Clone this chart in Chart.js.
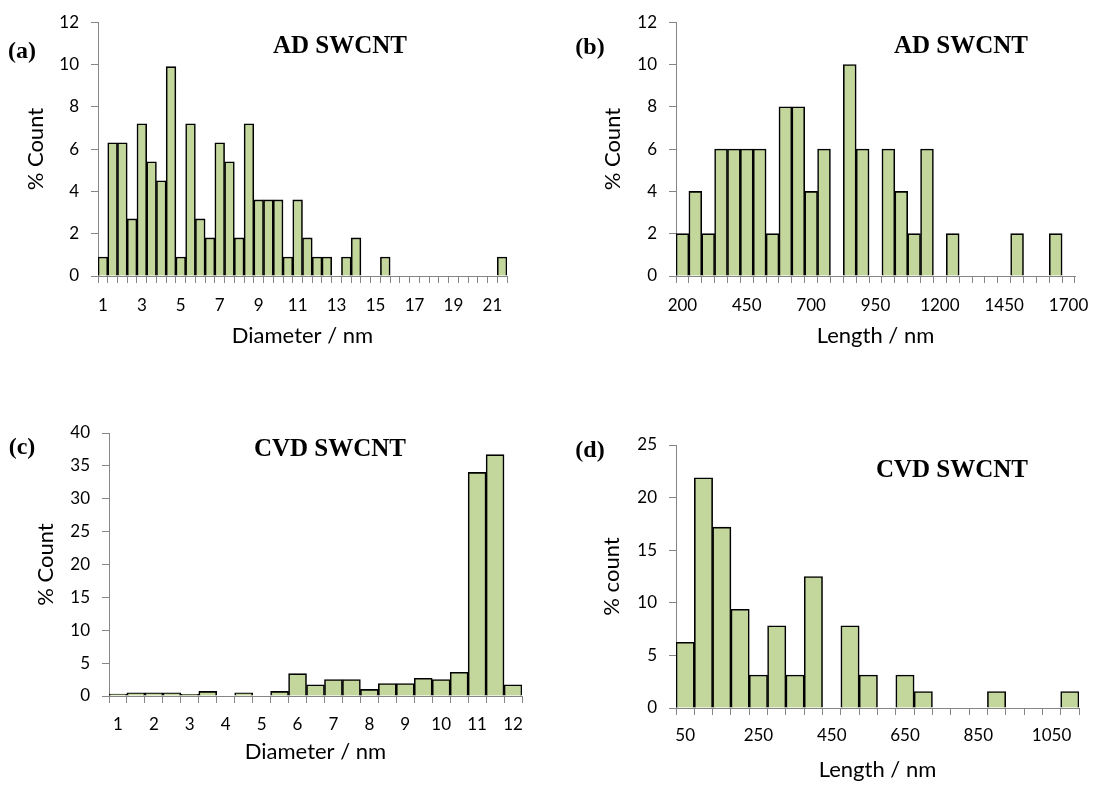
<!DOCTYPE html>
<html>
<head>
<meta charset="utf-8">
<script src="https://cdn.jsdelivr.net/npm/chart.js@4.4.0/dist/chart.umd.min.js"></script>
<style>
  body { margin:0; background:#fff; width:1102px; height:787px; position:relative; overflow:hidden; }
  canvas { position:absolute; }
  .lbl { position:absolute; font-family:'Liberation Serif','Times New Roman',serif; font-weight:bold;
         transform:translate(-50%,-50%); line-height:1; white-space:nowrap; color:#000; }
</style>
</head>
<body>
<canvas id="cA" width="551" height="393" style="left:0;top:0"></canvas>
<canvas id="cB" width="551" height="393" style="left:551px;top:0"></canvas>
<canvas id="cC" width="551" height="394" style="left:0;top:393px"></canvas>
<canvas id="cD" width="551" height="394" style="left:551px;top:393px"></canvas>

<div class="lbl" style="left:22px;top:50px;font-size:24px">(a)</div>
<div class="lbl" style="left:590px;top:46px;font-size:24px">(b)</div>
<div class="lbl" style="left:22px;top:446px;font-size:24px">(c)</div>
<div class="lbl" style="left:590px;top:449px;font-size:24px">(d)</div>
<div class="lbl" style="left:340px;top:44px;font-size:25px">AD SWCNT</div>
<div class="lbl" style="left:961px;top:44px;font-size:25px">AD SWCNT</div>
<div class="lbl" style="left:330px;top:447px;font-size:25px">CVD SWCNT</div>
<div class="lbl" style="left:952px;top:468px;font-size:25px">CVD SWCNT</div>

<script>
// data
const adDiamCats = [1,1.5,2,2.5,3,3.5,4,4.5,5,5.5,6,6.5,7,7.5,8,8.5,9,9.5,10,10.5,11,11.5,12,12.5,13,13.5,14,14.5,15,15.5,16,16.5,17,17.5,18,18.5,19,19.5,20,20.5,21,21.5];
const adDiamVals = [0.9,6.3,6.3,2.7,7.2,5.4,4.5,9.9,0.9,7.2,2.7,1.8,6.3,5.4,1.8,7.2,3.6,3.6,3.6,0.9,3.6,1.8,0.9,0.9,0,0.9,1.8,0,0,0.9,0,0,0,0,0,0,0,0,0,0,0,0.9];

const adLenCats = [200,250,300,350,400,450,500,550,600,650,700,750,800,850,900,950,1000,1050,1100,1150,1200,1250,1300,1350,1400,1450,1500,1550,1600,1650,1700];
const adLenVals = [2,4,2,6,6,6,6,2,8,8,4,6,0,10,6,0,6,4,2,6,0,2,0,0,0,0,2,0,0,2,0];

const cvdDiamCats = [1,1.5,2,2.5,3,3.5,4,4.5,5,5.5,6,6.5,7,7.5,8,8.5,9,9.5,10,10.5,11,11.5,12];
const cvdDiamVals = [0.3,0.5,0.5,0.5,0.25,0.7,0,0.5,0,0.7,3.4,1.7,2.5,2.5,1.0,1.9,1.9,2.7,2.5,3.6,34.0,36.7,1.7];

const cvdLenCats = [50,100,150,200,250,300,350,400,450,500,550,600,650,700,750,800,850,900,950,1000,1050,1100];
const cvdLenVals = [6.25,21.88,17.19,9.38,3.13,7.81,3.13,12.5,0,7.81,3.13,0,3.13,1.56,0,0,0,1.56,0,0,0,1.56];

const FILL = '#c3d69b';
const AXIS = '#868686';

Chart.defaults.font.family = 'Lato, "Liberation Sans", sans-serif';
Chart.defaults.color = '#000';

function panel(id, cats, vals, every, yMax, yStep, xTitle, yTitle, lay) {
  new Chart(document.getElementById(id), {
    type: 'bar',
    data: {
      labels: cats,
      datasets: [{ data: vals, backgroundColor: FILL, borderColor: '#000', borderWidth: 1.6,
                   barPercentage: 1, categoryPercentage: 1 }]
    },
    options: {
      responsive: false, animation: false,
      layout: { padding: { left: 0, top: lay.top, right: lay.right, bottom: lay.bottom } },
      plugins: { legend: { display: false }, tooltip: { enabled: false } },
      scales: {
        x: {
          grid: { display: true, drawOnChartArea: false, tickLength: 7, color: AXIS, offset: true },
          border: { color: AXIS },
          ticks: { autoSkip: false, maxRotation: 0, padding: lay.xPad, font: { size: 17 },
                   callback: (v, i) => i % every === 0 ? String(cats[i]) : '' },
          title: { display: true, text: xTitle, font: { size: 22 }, padding: 0 },
          afterFit: s => { s.height = lay.xH; }
        },
        y: {
          min: 0, max: yMax,
          ticks: { stepSize: yStep, padding: 12, font: { size: 17 } },
          grid: { drawOnChartArea: false, tickLength: 7, color: AXIS },
          border: { color: AXIS },
          title: { display: true, text: yTitle, font: { size: 22 }, padding: { top: lay.yTitlePad, bottom: 0 } },
          afterFit: s => { s.width = lay.yW; }
        }
      }
    }
  });
}

panel('cA', adDiamCats, adDiamVals, 4, 12, 2, 'Diameter / nm', '% Count',
      { top: 13, right: 44, bottom: 44, xH: 73, yW: 98, xPad: 12, yTitlePad: 23 });
panel('cB', adLenCats, adLenVals, 5, 12, 2, 'Length / nm', '% Count',
      { top: 13, right: 27, bottom: 44, xH: 73, yW: 125, xPad: 12, yTitlePad: 49 });
panel('cC', cvdDiamCats, cvdDiamVals, 2, 40, 5, 'Diameter / nm', '% Count',
      { top: 40, right: 29, bottom: 22, xH: 69, yW: 109, xPad: 11, yTitlePad: 33 });
panel('cD', cvdLenCats, cvdLenVals, 4, 25, 5, 'Length / nm', '% count',
      { top: 52, right: 23, bottom: 4, xH: 75, yW: 125, xPad: 10, yTitlePad: 48 });
</script>
</body>
</html>
